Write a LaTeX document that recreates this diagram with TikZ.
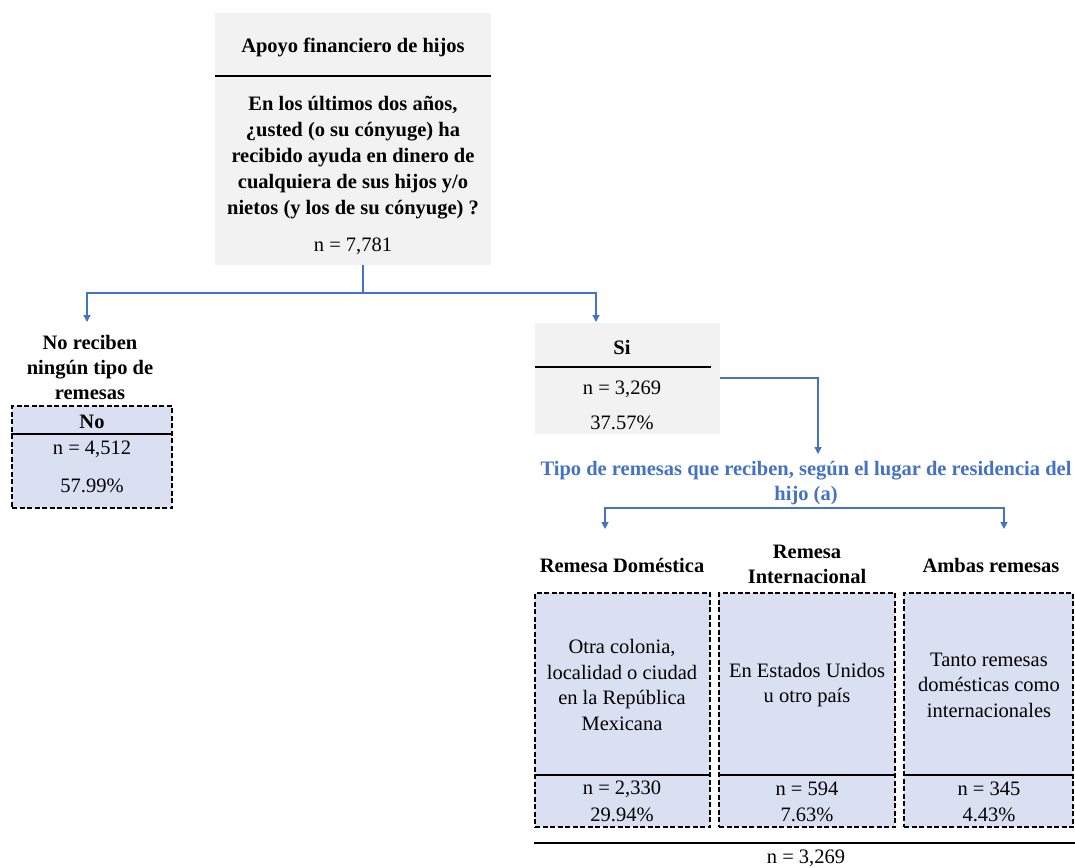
\documentclass[tikz,border=0pt]{standalone}
\usepackage{fontspec}
\setmainfont{Liberation Serif}
\usetikzlibrary{arrows.meta,calc}
\definecolor{cblue}{HTML}{4472C4}
\definecolor{cgray}{HTML}{F2F2F2}
\definecolor{clav}{HTML}{DAE0F2}
\tikzset{
  txt/.style={font=\fontsize{20.5}{25.5}\selectfont, inner sep=0pt, align=center},
  btxt/.style={font=\fontsize{20.5}{25}\selectfont\bfseries, inner sep=0pt, align=center},
  graybox/.style={fill=cgray, draw=none, inner sep=0pt},
  dbox/.style={fill=clav, draw=black, line width=1.6pt, dash pattern=on 5pt off 2.5pt, inner sep=0pt},
  sepline/.style={line width=1.5pt, black},
  conn/.style={cblue, line width=1.3pt},
  tip/.tip={Triangle[length=7pt,width=7pt]},
  arr/.style={conn, -tip},
}
\begin{document}
\begin{tikzpicture}[x=1pt,y=-1pt]
\useasboundingbox (0,0) rectangle (1075,867);
% top box
\node[graybox, minimum width=276pt, minimum height=252pt] (top) at (353,139) {};
\node[btxt] (toptitle) at (353,47) {Apoyo financiero de hijos};
\draw[sepline] (top.west |- 0,76) -- (top.east |- 0,76);
\node[btxt, font=\fontsize{20.5}{26}\selectfont\bfseries] (q) at (353,158) {En los últimos dos años,\\ ¿usted (o su cónyuge) ha\\ recibido ayuda en dinero de\\ cualquiera de sus hijos y/o\\ nietos (y los de su cónyuge) ?};
\node[txt] (n0) at (353,246) {n = 7,781};
% split connector
\coordinate (split) at (363,293);
\coordinate (noIn) at (87,322);
\coordinate (siIn) at (596,322);
\draw[conn] (top.south -| split) -- (split);
\draw[arr] (split) -| (noIn);
\draw[arr] (split) -| (siIn);
% left branch
\node[btxt] (nolab) at (90,367) {No reciben\\ ningún tipo de\\ remesas};
\node[dbox, minimum width=160pt, minimum height=102pt] (nobox) at (92,457) {};
\node[btxt] (notit) at (92,422) {No};
\draw[sepline] (nobox.west |- 0,434) -- (nobox.east |- 0,434);
\node[txt] (non) at (92,449) {n = 4,512};
\node[txt] (nop) at (92,486) {57.99\%};
% Si branch
\node[graybox, minimum width=185pt, minimum height=111pt] (sibox) at (627.5,378.5) {};
\node[btxt] (sitit) at (622,347) {Si};
\draw[sepline] (sibox.west |- 0,367) -- (711,367);
\node[txt] (sin) at (622,389) {n = 3,269};
\node[txt] (sip) at (622,423) {37.57\%};
\coordinate (tipIn) at (818,454);
\draw[arr] (sibox.east |- 0,378) -| (tipIn);
\node[btxt, text=cblue] (tipo) at (806,483) {Tipo de remesas que reciben, según el lugar de residencia del\\ hijo (a)};
\coordinate (bl) at (605,529);
\coordinate (br) at (1004,529);
\draw[conn, tip-tip] (bl) |- (tipo.south |- 0,508) -| (br);
% headers
\node[btxt] (h1) at (622,565) {Remesa Doméstica};
\node[btxt] (h2) at (807,564) {Remesa\\ Internacional};
\node[btxt] (h3) at (991,565) {Ambas remesas};
% boxes
\node[dbox, minimum width=175pt, minimum height=234pt] (b1) at (622.5,710) {};
\node[dbox, minimum width=176pt, minimum height=234pt] (b2) at (807,710) {};
\node[dbox, minimum width=169pt, minimum height=234pt] (b3) at (988.5,710) {};
\foreach \b in {b1,b2,b3}{
  \draw[sepline] (\b.west |- 0,775) -- (\b.east |- 0,775);
}
\node[txt] (t1) at (622,685) {Otra colonia,\\ localidad o ciudad\\ en la República\\ Mexicana};
\node[txt] (t2) at (807,685) {En Estados Unidos\\ u otro país};
\node[txt] (t3) at (989,685) {Tanto remesas\\ domésticas como\\ internacionales};
\node[txt] (n1) at (622,789) {n = 2,330};
\node[txt] (p1) at (622,815) {29.94\%};
\node[txt] (n2) at (807,789) {n = 594};
\node[txt] (p2) at (807,815) {7.63\%};
\node[txt] (n3) at (989,789) {n = 345};
\node[txt] (p3) at (989,815) {4.43\%};
\draw[line width=1.2pt] (b1.west |- 0,843) -- (1075,843);
\node[txt] (ntot) at (806,858) {n = 3,269};
\end{tikzpicture}
\end{document}
